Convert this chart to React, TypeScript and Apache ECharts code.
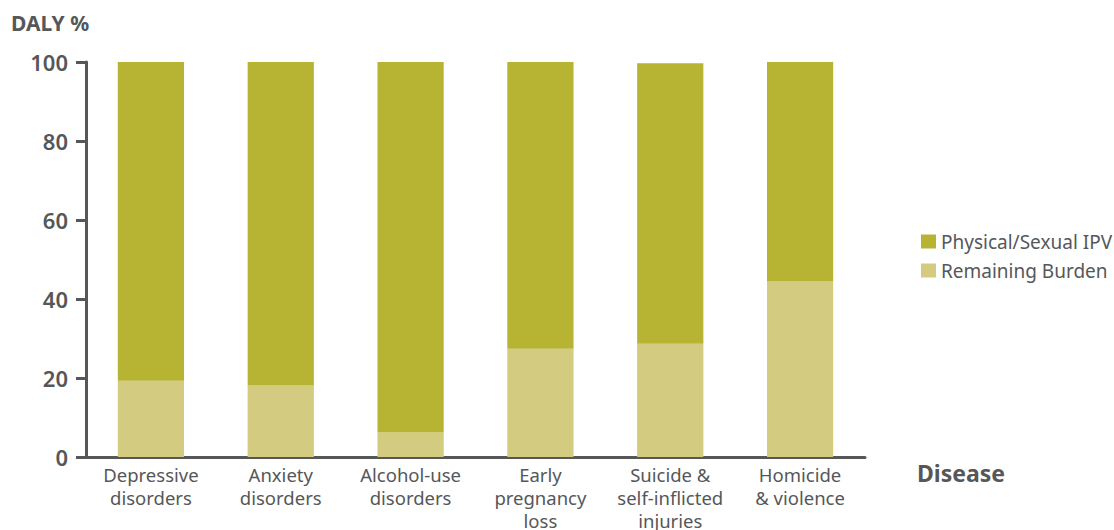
import React, { useEffect, useRef } from "react";
import * as echarts from "echarts";

const categories = [
  "Depressive\ndisorders",
  "Anxiety\ndisorders",
  "Alcohol-use\ndisorders",
  "Early\npregnancy\nloss",
  "Suicide &\nself-inflicted\ninjuries",
  "Homicide\n& violence",
];
const remainingBurden = [19.3, 18.1, 6.2, 27.4, 28.7, 44.4];
const physicalSexualIPV = [80.7, 81.9, 93.8, 72.6, 71.0, 55.6];
const yTicks = [0, 20, 40, 60, 80, 100];

const FONT = "Noto Sans";
const GREY = "#555759";

export default function App() {
  const ref = useRef<HTMLDivElement>(null);
  useEffect(() => {
    if (!ref.current) return;
    const chart = echarts.init(ref.current, null, { renderer: "svg" });
    chart.setOption({
      animation: false,
      textStyle: { fontFamily: FONT },
      grid: { left: 86, right: 249, top: 62, bottom: 73, outerBoundsMode: "none", containLabel: false },
      legend: {
        orient: "vertical",
        left: 916,
        top: 227,
        itemWidth: 15,
        itemHeight: 14,
        itemGap: 10,
        icon: "rect",
        data: ["Physical/Sexual IPV", "Remaining Burden"],
        textStyle: { color: GREY, fontSize: 19, lineHeight: 19, fontFamily: FONT },
      },
      xAxis: {
        type: "category",
        data: categories,
        axisLine: { lineStyle: { color: GREY, width: 3 } },
        axisTick: { show: false },
        axisLabel: {
          color: GREY,
          fontSize: 18.5,
          lineHeight: 23,
          margin: 6,
          interval: 0,
          fontFamily: FONT,
        },
      },
      yAxis: {
        type: "value",
        min: yTicks[0],
        max: yTicks[yTicks.length - 1],
        interval: 20,
        splitLine: { show: false },
        axisLine: { show: true, lineStyle: { color: GREY, width: 3 } },
        axisTick: { show: true, length: 10, lineStyle: { color: GREY, width: 3 } },
        axisLabel: {
          color: GREY,
          fontSize: 22,
          fontWeight: 600,
          margin: 18,
          fontFamily: FONT,
        },
      },
      graphic: [
        {
          type: "text",
          left: 11,
          top: 12,
          style: { text: "DALY %", fill: GREY, fontSize: 21, fontWeight: 700, fontFamily: FONT },
        },
        {
          type: "text",
          left: 917,
          top: 461,
          style: { text: "Disease", fill: GREY, fontSize: 23, fontWeight: 700, fontFamily: FONT },
        },
      ],
      series: [
        {
          name: "Remaining Burden",
          type: "bar",
          stack: "total",
          barWidth: "51%",
          itemStyle: { color: "#D2CB80" },
          data: remainingBurden,
        },
        {
          name: "Physical/Sexual IPV",
          type: "bar",
          stack: "total",
          barWidth: "51%",
          itemStyle: { color: "#B7B333" },
          data: physicalSexualIPV,
        },
      ],
    });
    return () => chart.dispose();
  }, []);
  return <div ref={ref} style={{ width: 1114, height: 530, position: "absolute", left: 0, top: 0 }} />;
}
